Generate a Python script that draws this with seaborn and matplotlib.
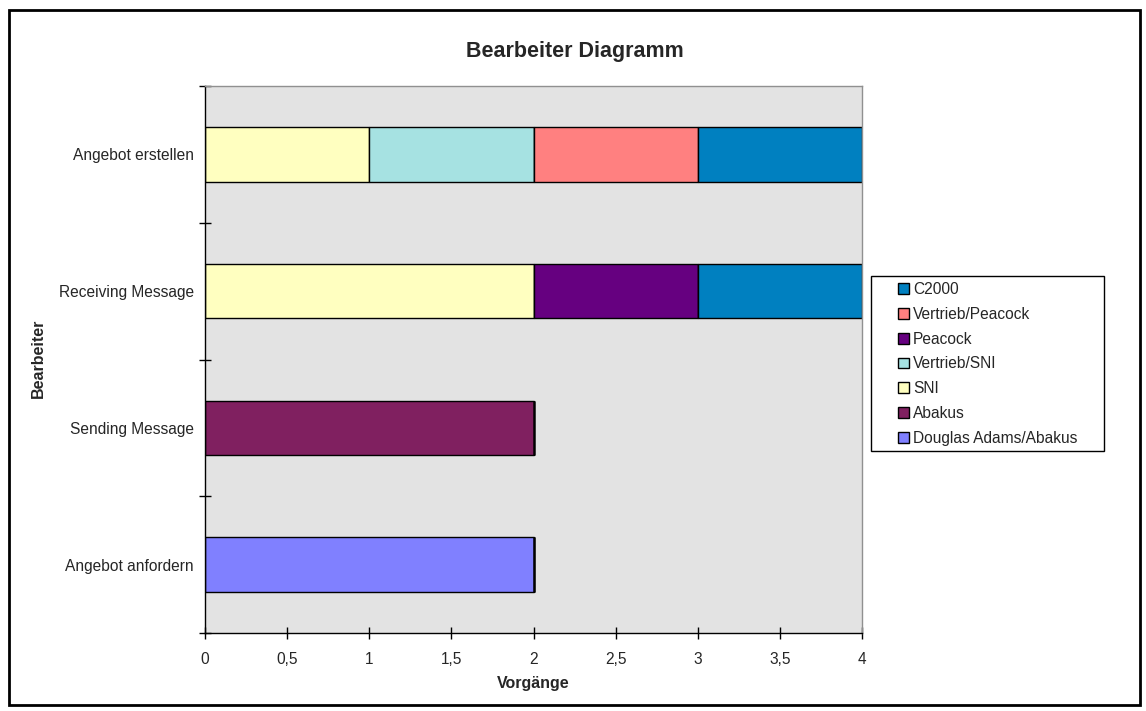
import matplotlib.pyplot as plt
import matplotlib.patches as mpatches
from matplotlib.ticker import FuncFormatter, MultipleLocator
import seaborn as sns

# data
categories = ["Angebot anfordern", "Sending Message", "Receiving Message", "Angebot erstellen"]
series_names = ["Douglas Adams/Abakus", "Abakus", "SNI", "Vertrieb/SNI",
                "Peacock", "Vertrieb/Peacock", "C2000"]
douglas = [2, 0, 0, 0]
abakus = [0, 2, 0, 0]
sni = [0, 0, 2, 1]
vertrieb_sni = [0, 0, 0, 1]
peacock = [0, 0, 1, 0]
vertrieb_peacock = [0, 0, 0, 1]
c2000 = [0, 0, 1, 1]
colors = ["#8080FF", "#802060", "#FFFFC0", "#A6E2E2", "#660080", "#FF8080", "#0080C0"]

values = [douglas, abakus, sni, vertrieb_sni, peacock, vertrieb_peacock, c2000]

sns.set_theme(style="white")
plt.rcParams["font.family"] = ["Liberation Sans", "DejaVu Sans"]

W, H = 1146, 711
fig = plt.figure(figsize=(W / 100, H / 100), dpi=100)
ax = fig.add_axes([205 / W, 1 - 633 / H, 657 / W, 547 / H])
ax.set_facecolor("#E3E3E3")

left = [0] * len(categories)
handles = []
for name, vals, col in zip(series_names, values, colors):
    bars = ax.barh(range(len(categories)), vals, left=left, height=0.4,
                   color=col, edgecolor="black", linewidth=1, label=name)
    handles.append(bars)
    left = [a + b for a, b in zip(left, vals)]

ax.set_xlim(0, 4)
ax.set_ylim(-0.5, 3.5)
ax.xaxis.set_major_locator(MultipleLocator(0.5))
ax.xaxis.set_major_formatter(FuncFormatter(lambda v, p: f"{v:g}".replace(".", ",")))
ax.set_yticks(range(len(categories)))
ax.set_yticklabels(categories)
ax.set_yticks([-0.5, 0.5, 1.5, 2.5, 3.5], minor=True)
ax.tick_params(axis="y", which="major", length=0, labelsize=11.2, pad=8)
ax.tick_params(axis="y", which="minor", length=9, direction="inout", width=1, color="black")
ax.tick_params(axis="x", which="major", length=9, direction="inout", width=1,
               color="black", labelsize=11.2, pad=9)
ax.tick_params(left=True, bottom=True, which="both")

for s in ["left", "bottom"]:
    ax.spines[s].set_color("black")
    ax.spines[s].set_linewidth(1)
for s in ["top", "right"]:
    ax.spines[s].set_color("#909090")
    ax.spines[s].set_linewidth(1)

ax.set_xlabel("Vorgänge", fontsize=11.5, fontweight="bold", labelpad=7)
ax.set_ylabel("Bearbeiter", fontsize=11.5, fontweight="bold")
ax.yaxis.set_label_coords(46 / W, 1 - 358 / H, transform=fig.transFigure)
fig.text(575 / W, 1 - 52 / H, "Bearbeiter Diagramm", ha="center", va="center",
         fontsize=15.5, fontweight="bold")

# legend box drawn separately so the padding matches
fig.patches.append(mpatches.Rectangle((871 / W, 1 - 451 / H), 233 / W, 175 / H,
                                      transform=fig.transFigure, fill=False,
                                      edgecolor="black", linewidth=1))
leg = fig.legend(handles[::-1], series_names[::-1], loc="upper left",
                 bbox_to_anchor=(898 / W, 1 - 282 / H), fontsize=11.2,
                 frameon=False, handlelength=0.7, handleheight=0.7,
                 handletextpad=0.25, labelspacing=0.63, borderpad=0, borderaxespad=0)

fig.patches.append(mpatches.Rectangle((9 / W, 1 - 705 / H), 1131 / W, 695 / H,
                                      transform=fig.transFigure, fill=False,
                                      edgecolor="black", linewidth=2))

fig.savefig("out.png", dpi=100)
